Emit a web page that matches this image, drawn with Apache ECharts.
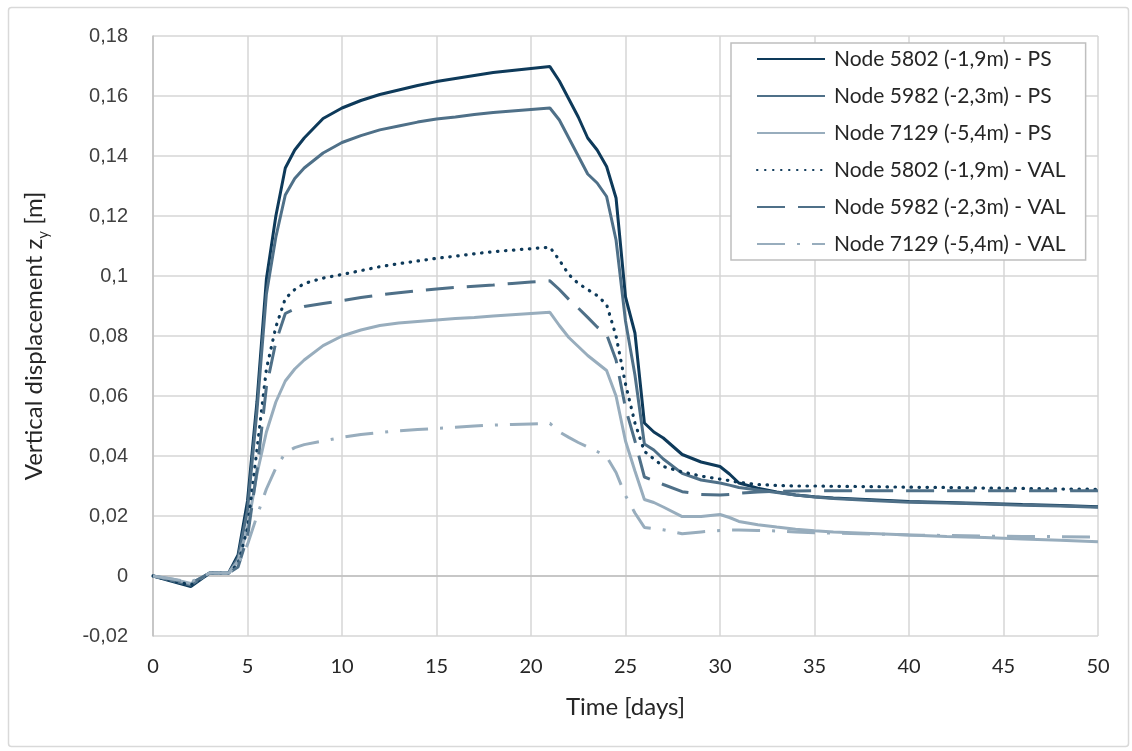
<!DOCTYPE html>
<html>
<head>
<meta charset="utf-8">
<script src="https://cdn.jsdelivr.net/npm/echarts@6/dist/echarts.min.js"></script>
<style>
html,body{margin:0;padding:0;background:#fff;}
#chart{width:1132px;height:751px;}
</style>
</head>
<body>
<div id="chart"></div>
<script>
// Time [days]
const time = [0,1,2,3,4,4.5,5,5.5,6,6.5,7,7.5,8,9,10,11,12,13,14,15,16,17,18,19,20,21,21.5,22,22.5,23,23.5,24,24.5,25,25.5,26,26.5,27,28,29,30,30.5,31,32,33,34,35,36,38,40,42,44,46,48,50];

const node5802PS = [0,-0.0018,-0.0035,0.001,0.001,0.007,0.025,0.058,0.099,0.12,0.136,0.142,0.146,0.1525,0.156,0.1585,0.1605,0.162,0.1635,0.1648,0.1658,0.1668,0.1678,0.1685,0.1692,0.1698,0.165,0.159,0.153,0.146,0.142,0.1365,0.126,0.093,0.081,0.051,0.048,0.046,0.0405,0.038,0.0365,0.034,0.031,0.0293,0.028,0.027,0.0264,0.026,0.0254,0.0248,0.0245,0.0242,0.0238,0.0235,0.0231];

const node5982PS = [0,-0.0015,-0.003,0.001,0.001,0.006,0.022,0.055,0.094,0.113,0.127,0.1325,0.136,0.141,0.1445,0.1468,0.1487,0.15,0.1513,0.1523,0.153,0.1538,0.1545,0.155,0.1555,0.156,0.152,0.146,0.14,0.134,0.131,0.1265,0.112,0.085,0.067,0.044,0.042,0.039,0.0342,0.032,0.031,0.0303,0.0295,0.0287,0.0278,0.027,0.0263,0.0258,0.0252,0.0246,0.0243,0.024,0.0236,0.0233,0.0229];

const node7129PS = [0,-0.001,-0.0025,0.001,0.001,0.005,0.016,0.034,0.048,0.058,0.065,0.069,0.072,0.0768,0.08,0.082,0.0835,0.0843,0.0848,0.0853,0.0858,0.0862,0.0867,0.0871,0.0875,0.0879,0.0835,0.0795,0.0765,0.0735,0.071,0.0685,0.06,0.045,0.035,0.0255,0.0245,0.023,0.0198,0.0198,0.0205,0.0195,0.0182,0.0171,0.0163,0.0156,0.0151,0.0147,0.0142,0.0137,0.0132,0.0128,0.0123,0.0119,0.0114];

const node5802VAL = [0,-0.0015,-0.003,0.001,0.001,0.004,0.016,0.042,0.069,0.083,0.0925,0.0955,0.0975,0.0993,0.1005,0.1018,0.1031,0.1041,0.105,0.1059,0.1066,0.1074,0.1081,0.1086,0.1091,0.1096,0.1053,0.1005,0.0975,0.0955,0.0935,0.0905,0.08,0.064,0.051,0.0415,0.039,0.0365,0.0347,0.0333,0.0323,0.0318,0.0312,0.0305,0.0302,0.03,0.03,0.0299,0.0298,0.0296,0.0295,0.0293,0.0292,0.029,0.0289];

const node5982VAL = [0,-0.0012,-0.0025,0.001,0.001,0.003,0.013,0.035,0.063,0.078,0.0875,0.089,0.0898,0.0908,0.0918,0.0928,0.0937,0.0944,0.0951,0.0957,0.0962,0.0966,0.097,0.0975,0.098,0.0984,0.0955,0.0922,0.0893,0.0862,0.083,0.0805,0.072,0.056,0.045,0.033,0.0318,0.0305,0.0281,0.0272,0.027,0.0272,0.0276,0.028,0.0282,0.0283,0.0284,0.0284,0.0284,0.0284,0.0284,0.0284,0.0284,0.0284,0.0284];

const node7129VAL = [0,-0.001,-0.002,0.001,0.001,0.004,0.0105,0.02,0.029,0.036,0.041,0.0428,0.0438,0.045,0.0462,0.0472,0.0478,0.0484,0.0488,0.0492,0.0496,0.05,0.0503,0.0505,0.0507,0.0509,0.048,0.0462,0.0445,0.043,0.0415,0.0398,0.0345,0.0268,0.021,0.0162,0.0158,0.0154,0.0141,0.0147,0.0152,0.0153,0.0153,0.0152,0.015,0.0147,0.0144,0.0143,0.014,0.0137,0.0135,0.0133,0.0132,0.0131,0.013];

const seriesNames = [
  'Node 5802 (-1,9m) - PS',
  'Node 5982 (-2,3m) - PS',
  'Node 7129 (-5,4m) - PS',
  'Node 5802 (-1,9m) - VAL',
  'Node 5982 (-2,3m) - VAL',
  'Node 7129 (-5,4m) - VAL'
];
const xTicks = [0,5,10,15,20,25,30,35,40,45,50];
const yTicks = [-0.02,0,0.02,0.04,0.06,0.08,0.1,0.12,0.14,0.16,0.18];

const DARK = '#0e3a5a', MID = '#4f7088', LIGHT = '#98adbd';
const TXT = '#262626';
const FONT = 'Lato, "Open Sans", sans-serif';

function pairs(ys){ return time.map((t,i)=>[t, ys[i]]); }
function mk(name, ys, color, lineStyle){
  return {
    name, type:'line', data: pairs(ys), symbol:'none', smooth:false,
    lineStyle: Object.assign({color, width:3}, lineStyle),
    itemStyle:{color}, z: 3
  };
}

const chart = echarts.init(document.getElementById('chart'), null, {renderer:'canvas'});
chart.setOption({
  animation:false,
  backgroundColor:'#fff',
  graphic:[{
    type:'rect', left:6, top:5, shape:{width:1120, height:739, r:3},
    style:{fill:'none', stroke:'#d9d9d9', lineWidth:1.5}, silent:true, z:-10
  }],
  grid:{left:153, right:34, top:36, bottom:115, show:false},
  legend:{
    orient:'vertical', left:731, top:43,
    padding:[5,20,5,25],
    backgroundColor:'#fff', borderColor:'#bfbfbf', borderWidth:1.5,
    itemWidth:68, itemHeight:14, itemGap:15,
    itemStyle:{opacity:0},
    textStyle:{fontFamily:FONT, fontSize:21, color:TXT, lineHeight:22, padding:[0,0,0,4]},
    data: seriesNames
  },
  xAxis:{
    type:'value', min:0, max:50, interval:5,
    name:'Time [days]', nameLocation:'middle', nameGap:59,
    nameTextStyle:{fontFamily:FONT, fontSize:24, color:TXT},
    axisLine:{show:true, lineStyle:{color:'#bfbfbf', width:1.5}},
    axisTick:{show:false},
    axisLabel:{margin:21, fontFamily:FONT, fontSize:20, color:TXT,
      formatter: v => xTicks.includes(v) ? String(v) : ''},
    splitLine:{show:true, lineStyle:{color:'#d6d6d6', width:1.5}}
  },
  yAxis:{
    type:'value', min:-0.02, max:0.18, interval:0.02,
    name:'Vertical displacement z{sub|y} [m]', nameLocation:'middle', nameGap:102, nameRotate:90,
    nameTextStyle:{fontFamily:FONT, fontSize:24, color:TXT, lineHeight:34,
      rich:{sub:{fontFamily:FONT, fontSize:15, color:TXT, lineHeight:15, verticalAlign:'bottom'}}},
    axisLine:{show:true, lineStyle:{color:'#bfbfbf', width:1.5}},
    axisTick:{show:false},
    axisLabel:{margin:25, fontFamily:'"Liberation Sans", Arial, sans-serif', fontSize:20, color:'#404040',
      formatter: v => {
        const r = Math.round(v*1000)/1000;
        const t = yTicks.find(k => Math.abs(k - r) < 1e-9);
        return t === undefined ? '' : String(t).replace('.', ',');
      }},
    splitLine:{show:true, lineStyle:{color:'#d6d6d6', width:1.5}}
  },
  series:[
    mk(seriesNames[0], node5802PS, DARK, {type:'solid'}),
    mk(seriesNames[1], node5982PS, MID, {type:'solid'}),
    mk(seriesNames[2], node7129PS, LIGHT, {type:'solid'}),
    mk(seriesNames[3], node5802VAL, DARK, {type:[0.5,7.5], cap:'round', width:3.2}),
    mk(seriesNames[4], node5982VAL, MID, {type:[28,13], cap:'butt'}),
    mk(seriesNames[5], node7129VAL, LIGHT, {type:[28,12,3,12], cap:'butt'})
  ]
});
</script>
</body>
</html>
